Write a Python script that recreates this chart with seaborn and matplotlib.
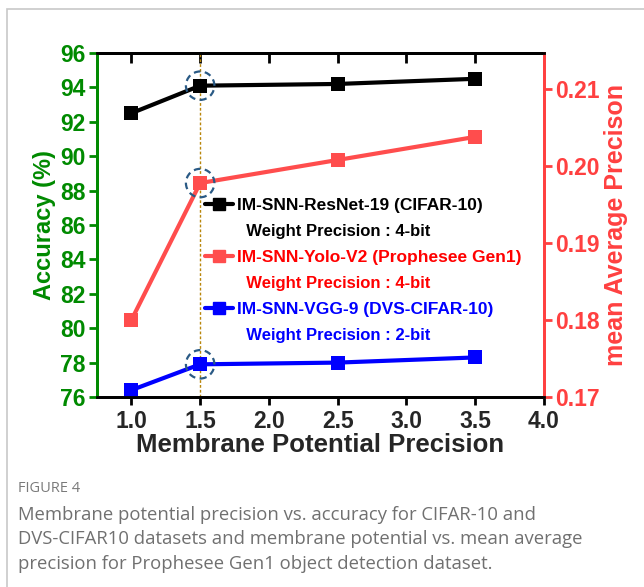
import numpy as np
import pandas as pd
import matplotlib
matplotlib.use("Agg")
import matplotlib.pyplot as plt
from matplotlib.lines import Line2D
from matplotlib.patches import Rectangle
import seaborn as sns

# dados
precisao = [1.0, 1.5, 2.5, 3.5]
acc_resnet = [92.5, 94.1, 94.2, 94.5]
acc_vgg = [76.4, 77.9, 78.0, 78.3]
map_yolo = [0.180, 0.1978, 0.2008, 0.2038]

xticks = [1.0, 1.5, 2.0, 2.5, 3.0, 3.5, 4.0]
yticks_acc = [76, 78, 80, 82, 84, 86, 88, 90, 92, 94, 96]
yticks_map = [0.17, 0.18, 0.19, 0.20, 0.21]

legenda = [
    ("IM-SNN-ResNet-19 (CIFAR-10)", "Weight Precision : 4-bit", "black", "black"),
    ("IM-SNN-Yolo-V2 (Prophesee Gen1)", "Weight Precision : 4-bit", "#ff4d4d", "#ff0000"),
    ("IM-SNN-VGG-9 (DVS-CIFAR-10)", "Weight Precision : 2-bit", "#0000ff", "#0000ff"),
]

sns.set_style("white")
plt.rcParams['font.family'] = ['Liberation Sans', 'DejaVu Sans']
plt.rcParams['font.weight'] = 'bold'

verde = '#008a00'
vermelho = '#ff4040'
azul = '#0000ff'
circulo = '#2a5a85'

df = pd.DataFrame({'x': precisao, 'resnet': acc_resnet, 'vgg': acc_vgg, 'yolo': map_yolo})

fig = plt.figure(figsize=(6.44, 5.87), dpi=100)
fig.patches.append(Rectangle((7 / 644, -0.1), 1.2, (587 - 9) / 587 + 0.1,
                             transform=fig.transFigure, fill=False,
                             edgecolor='#c8c8c8', linewidth=1.2))

ax = fig.add_axes([97 / 644, 190 / 587, 447 / 644, 344 / 587])
ax2 = ax.twinx()

ax.axvline(1.5, color='#b8860b', linestyle=(0, (2, 1.5)), linewidth=1.0, zorder=1)

sns.lineplot(data=df, x='x', y='resnet', ax=ax, color='black', marker='s',
             markersize=10, markeredgewidth=0, linewidth=3, zorder=3)
sns.lineplot(data=df, x='x', y='vgg', ax=ax, color=azul, marker='s',
             markersize=10, markeredgewidth=0, linewidth=3, zorder=3)
sns.lineplot(data=df, x='x', y='yolo', ax=ax2, color='#ff4d4d', marker='s',
             markersize=10, markeredgewidth=0, linewidth=3, zorder=3)

# circulos tracejados em 1.5
i = precisao.index(1.5)
ax.scatter([1.5, 1.5], [acc_resnet[i], acc_vgg[i]], s=420, facecolors='none',
           edgecolors=circulo, linewidths=1.6, linestyles=(0, (3, 2)), zorder=4)
ax2.scatter([1.5], [map_yolo[i]], s=420, facecolors='none',
            edgecolors=circulo, linewidths=1.6, linestyles=(0, (3, 2)), zorder=4)

ax.set_xlim(0.75, 4.0)
ax.set_ylim(76, 96)
ax2.set_ylim(0.17, 0.2147)
ax.set_xticks(xticks)
ax.set_xticklabels([f"{v:.1f}" for v in xticks], fontweight='bold')
ax.set_yticks(yticks_acc)
ax.set_yticklabels([str(v) for v in yticks_acc], fontweight='bold')
ax2.set_yticks(yticks_map)
ax2.set_yticklabels([f"{v:.2f}" for v in yticks_map], fontweight='bold')

ax.set_xlabel('Membrane Potential Precision', fontsize=18.5, fontweight='bold', labelpad=0)
ax.set_ylabel('Accuracy (%)', fontsize=17, fontweight='bold', color=verde, labelpad=3)
ax2.set_ylabel('mean Average Precison', fontsize=18, fontweight='bold', color=vermelho, labelpad=3)

for a in (ax, ax2):
    for s in a.spines.values():
        s.set_linewidth(2)
        s.set_visible(True)
    a.spines['top'].set_color('black')
    a.spines['bottom'].set_color('black')
    a.spines['left'].set_color(verde)
    a.spines['right'].set_color(vermelho)

ax.tick_params(axis='x', bottom=True, direction='out', length=6, width=2,
               labelsize=16.5, color='black', pad=3)
ax.tick_params(axis='y', left=True, direction='out', length=6, width=2,
               labelsize=16.5, colors=verde, pad=2)
ax2.tick_params(axis='y', right=True, direction='out', length=6, width=2,
                labelsize=16.5, colors=vermelho, pad=2)

# marcas para dentro no topo
topo = ax.secondary_xaxis('top')
topo.set_xticks(xticks[:-1])
topo.tick_params(axis='x', direction='in', length=7, width=2, labeltop=False, color='black')
topo.spines['top'].set_linewidth(2)

# legenda
handles, labels = [], []
for nome, peso, cor_linha, cor_txt in legenda:
    handles.append(Line2D([], [], color=cor_linha, marker='s', markersize=8, linewidth=3))
    labels.append(nome)
    handles.append(Line2D([], [], color='none'))
    labels.append('  ' + peso)
leg = ax.legend(handles, labels, loc='upper left', bbox_to_anchor=(0.2416, 0.578),
                frameon=False, fontsize=12.5, handlelength=1.6, handletextpad=0.23,
                labelspacing=0.62, borderaxespad=0, borderpad=0)
for k, txt in enumerate(leg.get_texts()):
    txt.set_color(legenda[k // 2][3])
    txt.set_fontweight('bold')
    txt.set_fontsize(12.5 if k % 2 == 0 else 12)

fig.text(18 / 644, 1 - 488 / 587, 'FIGURE 4', fontsize=10.5, color='#7a7a7a',
         family=['Open Sans', 'DejaVu Sans'], fontweight='normal', va='center')
legenda_fig = ("Membrane potential precision vs. accuracy for CIFAR-10 and\n"
               "DVS-CIFAR10 datasets and membrane potential vs. mean average\n"
               "precision for Prophesee Gen1 object detection dataset.")
fig.text(18 / 644, 1 - 506 / 587, legenda_fig, fontsize=13.3, color='#707070',
         family=['Open Sans', 'DejaVu Sans'], fontweight='normal', va='top',
         linespacing=1.45)

fig.savefig('out.png', dpi=100)
